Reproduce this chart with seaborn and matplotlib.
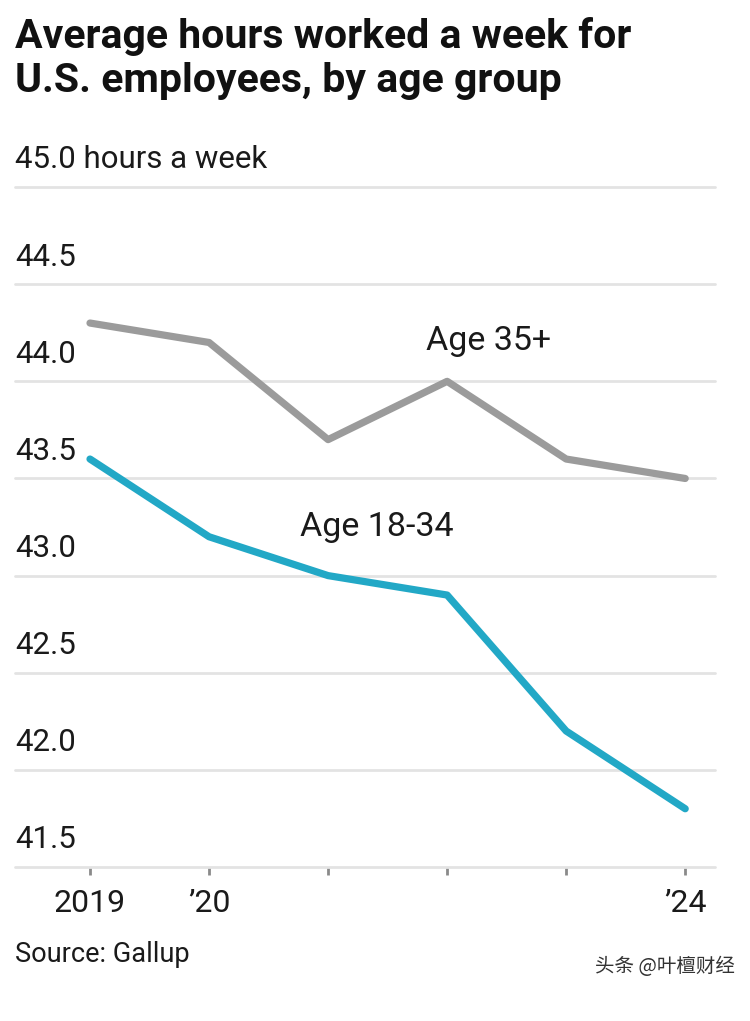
import matplotlib

matplotlib.use("Agg")
import matplotlib.pyplot as plt
import pandas as pd
import seaborn as sns

# data
years = [2019, 2020, 2021, 2022, 2023, 2024]
age_35_plus = [44.3, 44.2, 43.7, 44.0, 43.6, 43.5]
age_18_34 = [43.6, 43.2, 43.0, 42.9, 42.2, 41.8]
year_labels = ["2019", "\u201920", "", "", "", "\u201924"]
y_ticks = [41.5, 42.0, 42.5, 43.0, 43.5, 44.0, 44.5, 45.0]
y_tick_labels = ["41.5", "42.0", "42.5", "43.0", "43.5", "44.0", "44.5", "45.0 hours a week"]

df = pd.DataFrame(
    {
        "year": years * 2,
        "hours": age_35_plus + age_18_34,
        "group": ["Age 35+"] * len(years) + ["Age 18-34"] * len(years),
    }
)

sns.set_style("white")
plt.rcParams["font.family"] = ["Liberation Sans Narrow", "Roboto", "DejaVu Sans"]

palette = {"Age 35+": "#9b9b9b", "Age 18-34": "#22a8c6"}
grid_color = "#e3e3e3"
text_color = "#1a1a1a"

fig = plt.figure(figsize=(7.5, 10.21), dpi=100)
ax = fig.add_axes([0.02, 0.1508, 0.9333, 0.666])

sns.lineplot(
    data=df,
    x="year",
    y="hours",
    hue="group",
    palette=palette,
    linewidth=5.2,
    legend=False,
    ax=ax,
    zorder=3,
)

ax.set_xlim(2018.37, 2024.25)
ax.set_ylim(41.5, 45.0)
ax.set_yticks(y_ticks)
ax.set_yticklabels([])
ax.tick_params(axis="y", length=0)
for v in y_ticks:
    ax.axhline(v, color=grid_color, linewidth=2, zorder=1, clip_on=False)
for v, lab in zip(y_ticks, y_tick_labels):
    ax.text(
        2018.37, v + 0.065, lab, fontsize=22.5, color=text_color,
        ha="left", va="bottom", clip_on=False,
    )

ax.set_xticks(years)
ax.set_xticklabels(year_labels, fontsize=23, color=text_color)
ax.tick_params(axis="x", bottom=True, length=6, width=2, color="#8a8a8a", pad=10)
ax.set_xlabel("")
ax.set_ylabel("")
for s in ax.spines.values():
    s.set_visible(False)

ax.text(2021.82, 44.21, "Age 35+", fontsize=24.5, color=text_color, va="center", ha="left")
ax.text(2020.765, 43.25, "Age 18-34", fontsize=24.5, color=text_color, va="center", ha="left")

fig.text(
    0.02, 0.983, "Average hours worked a week for\nU.S. employees, by age group",
    fontsize=29.5, fontweight="bold", color="#111111", ha="left", va="top",
    linespacing=1.2,
)
fig.text(0.02, 0.065, "Source: Gallup", fontsize=19.5, color=text_color, ha="left", va="center")
fig.text(
    0.98, 0.053, "头条 @叶檀财经", fontsize=14, color="#333333", ha="right", va="center",
    family=["Noto Sans CJK SC", "DejaVu Sans"],
)

fig.savefig("out.png", dpi=100, facecolor="white")
plt.close(fig)
